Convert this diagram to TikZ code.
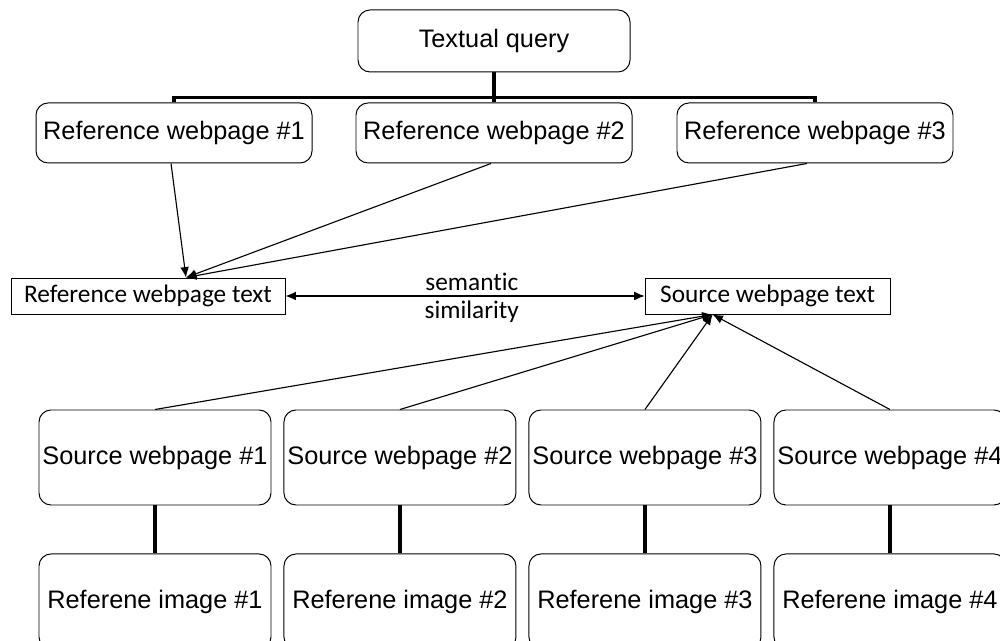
\documentclass[tikz,border=0pt]{standalone}
\usepackage{fontspec}
\setmainfont{Liberation Sans}
\newfontfamily\calibrifont[Ligatures=NoCommon]{Carlito}
\usetikzlibrary{positioning,arrows.meta}

\begin{document}
\begin{tikzpicture}[auto,node distance=.3cm,
roundbox/.style={rectangle,draw,line width=0.7pt,rounded corners=0.3cm,inner sep=0pt,font=\fontsize{18}{21}\selectfont},
refbox/.style={roundbox,minimum width=6.9cm,minimum height=1.5cm},
webbox/.style={roundbox,minimum width=5.8cm,minimum height=2.375cm},
textbox/.style={rectangle,draw,line width=0.7pt,inner sep=0pt,minimum height=0.9cm,font=\calibrifont\fontsize{18}{21}\selectfont},
paths/.style={line width=0.8pt, -{Latex[length=2.6mm,width=2.2mm]}},
twoway/.style={line width=0.8pt, {Latex[length=2.6mm,width=2.2mm]}-{Latex[length=2.6mm,width=2.2mm]}},
bar/.style={line width=2.8pt}
]
\useasboundingbox (0,0) rectangle (25,16.025);
%create nodes
\node[roundbox, minimum width=6.8cm, minimum height=1.55cm] (query) at (12.35,15.0) {Textual query};

\node[refbox] (ref2) at (12.35,12.7) {Reference webpage \#2};
\node[refbox, left=1.075cm of ref2] (ref1) {Reference webpage \#1};
\node[refbox, right=1.1cm of ref2] (ref3) {Reference webpage \#3};

\node[textbox, minimum width=6.85cm] (reftext) at (3.7,8.625) {Reference webpage text};
\node[textbox, minimum width=6.125cm] (srctext) at (19.19,8.625) {Source webpage text};

\node[webbox] (sw1) at (3.875,4.5875) {Source webpage \#1};
\node[webbox, right=of sw1] (sw2) {Source webpage \#2};
\node[webbox, right=of sw2] (sw3) {Source webpage \#3};
\node[webbox, right=of sw3] (sw4) {Source webpage \#4};

\node[webbox, below=1.2cm of sw1] (img1) {Referene image \#1};
\node[webbox, below=1.2cm of sw2] (img2) {Referene image \#2};
\node[webbox, below=1.2cm of sw3] (img3) {Referene image \#3};
\node[webbox, below=1.2cm of sw4] (img4) {Referene image \#4};

\coordinate (reftop) at ([xshift=0.95cm]reftext.north);
\coordinate (srcbot) at ([xshift=-1.375cm]srctext.south);

%draw tree
\draw[bar] (ref1.north) -- ++(0,0.125) -| (ref3.north);
\draw[bar] (query.south) -- (ref2.north);

\draw[bar] (sw1.south) -- (img1.north);
\draw[bar] (sw2.south) -- (img2.north);
\draw[bar] (sw3.south) -- (img3.north);
\draw[bar] (sw4.south) -- (img4.north);

%draw paths
\draw[paths] ([xshift=-0.075cm]ref1.south) -- (reftop);
\draw[paths] ([xshift=-0.075cm]ref2.south) -- (reftop);
\draw[paths] ([xshift=-0.2cm]ref3.south) -- (reftop);

\draw[paths] (sw1.north) -- (srcbot);
\draw[paths] (sw2.north) -- (srcbot);
\draw[paths] (sw3.north) -- (srcbot);
\draw[paths] (sw4.north) -- (srcbot);

%draw similarity
\draw[twoway] (reftext.east) -- (srctext.west)
  node[midway, above=0pt, xshift=0.17cm, font=\calibrifont\fontsize{18}{21}\selectfont] (sem) {semantic}
  node[midway, below=0pt, xshift=0.17cm, font=\calibrifont\fontsize{18}{21}\selectfont] (sim) {similarity};
\end{tikzpicture}
\end{document}
